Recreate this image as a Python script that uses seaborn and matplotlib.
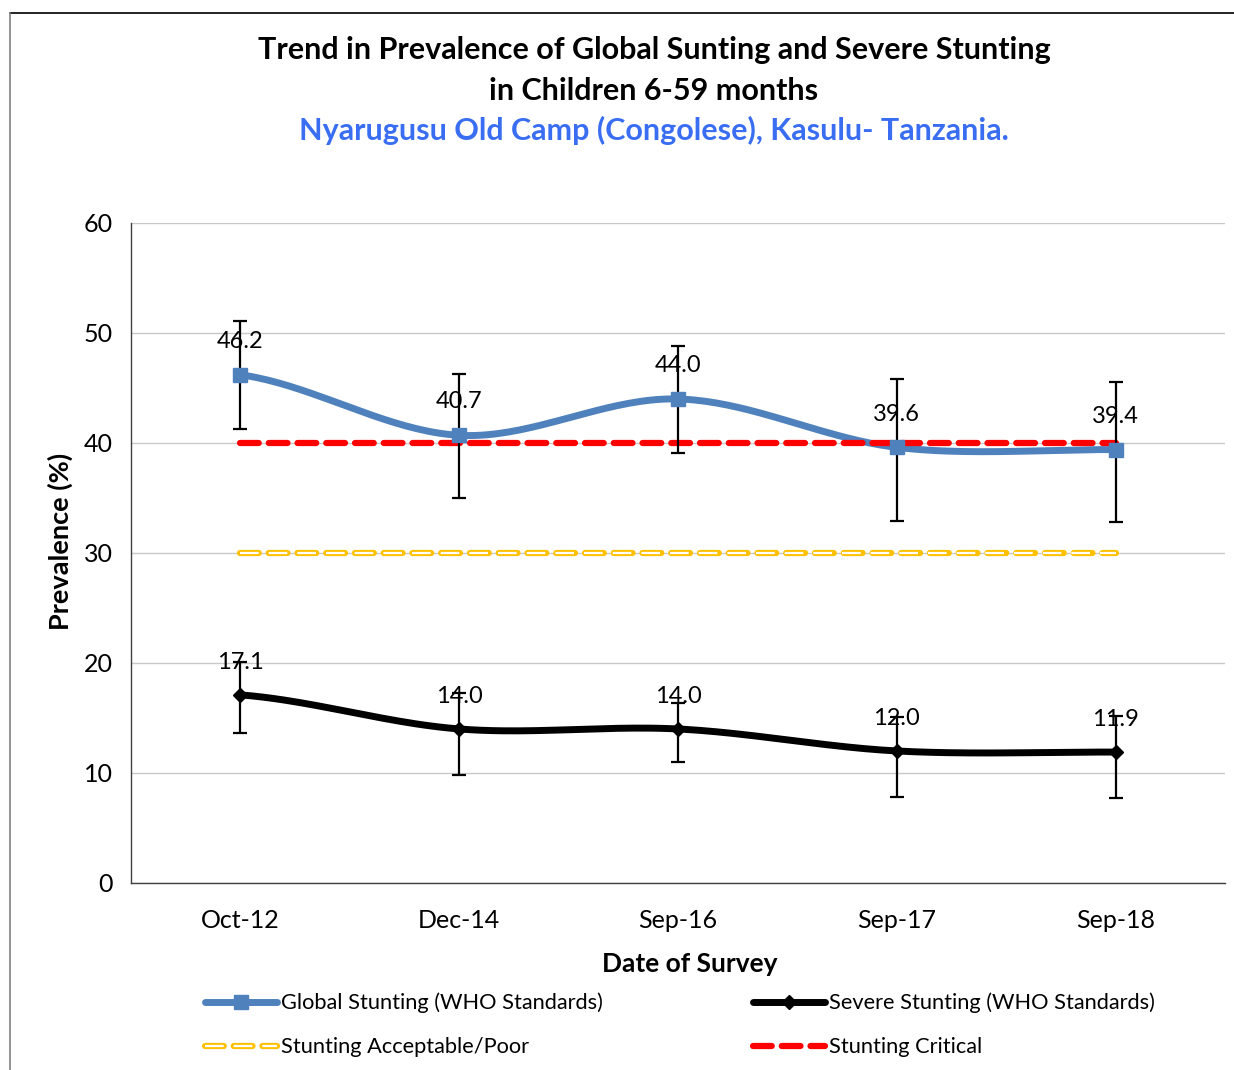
import numpy as np
import matplotlib
matplotlib.use("Agg")
import matplotlib.pyplot as plt
import seaborn as sns
from matplotlib.lines import Line2D

# --------------------------------------------
# 1. DATA
# --------------------------------------------
survey_dates = ["Oct-12", "Dec-14", "Sep-16", "Sep-17", "Sep-18"]

global_stunting = [46.2, 40.7, 44.0, 39.6, 39.4]
global_low = [41.3, 35.0, 39.1, 32.9, 32.8]
global_high = [51.1, 46.3, 48.8, 45.8, 45.5]

severe_stunting = [17.1, 14.0, 14.0, 12.0, 11.9]
severe_low = [13.6, 9.8, 11.0, 7.8, 7.7]
severe_high = [20.1, 17.3, 16.4, 15.1, 15.2]

threshold_poor = 30
threshold_critical = 40

# --------------------------------------------
# 2. BASIC SETTINGS
# --------------------------------------------
sns.set_style("white")
plt.rcParams["font.family"] = ["Lato", "DejaVu Sans"]
plt.rcParams["text.color"] = "black"
plt.rcParams["axes.labelcolor"] = "black"
plt.rcParams["xtick.color"] = "black"
plt.rcParams["ytick.color"] = "black"

BLUE = "#4F81BD"
GOLD = "#FFC000"
RED = "#FF0000"


def smooth(values, n=40):
    # Catmull-Rom spline like Excel's smoothed line
    p = np.asarray(values, dtype=float)
    pts = np.concatenate([[p[0]], p, [p[-1]]])
    xs, ys = [], []
    for i in range(1, len(pts) - 2):
        t = np.linspace(0, 1, n, endpoint=(i == len(pts) - 3))
        p0, p1, p2, p3 = pts[i - 1], pts[i], pts[i + 1], pts[i + 2]
        y = 0.5 * ((2 * p1) + (-p0 + p2) * t + (2 * p0 - 5 * p1 + 4 * p2 - p3) * t ** 2
                   + (-p0 + 3 * p1 - 3 * p2 + p3) * t ** 3)
        xs.append(i - 1 + t)
        ys.append(y)
    return np.concatenate(xs), np.concatenate(ys)


fig = plt.figure(figsize=(12.34, 10.70), dpi=100)
ax = fig.add_axes([0.1062, 0.1748, 0.8865, 0.6168])

x = np.arange(len(survey_dates))

# --------------------------------------------
# 3. THRESHOLD LINES
# --------------------------------------------
ax.plot(x[[0, -1]], [threshold_poor] * 2, color=GOLD, lw=4.5, ls=(0, (3, 1.6)),
        dash_capstyle="round", solid_capstyle="round", zorder=2)
ax.plot(x[[0, -1]], [threshold_poor] * 2, color="white", lw=1.6, ls=(0, (8.4, 4.5)),
        zorder=2.1)
ax.plot(x[[0, -1]], [threshold_critical] * 2, color=RED, lw=4.5, ls=(0, (3, 1.6)),
        dash_capstyle="round", zorder=4)

# --------------------------------------------
# 4. SMOOTHED SERIES + ERROR BARS
# --------------------------------------------
gx, gy = smooth(global_stunting)
sx, sy = smooth(severe_stunting)
sns.lineplot(x=gx, y=gy, ax=ax, color=BLUE, lw=5, sort=False, zorder=3)
sns.lineplot(x=sx, y=sy, ax=ax, color="black", lw=5, sort=False, zorder=3)

g_err = [np.subtract(global_stunting, global_low), np.subtract(global_high, global_stunting)]
s_err = [np.subtract(severe_stunting, severe_low), np.subtract(severe_high, severe_stunting)]
ax.errorbar(x, global_stunting, yerr=g_err, fmt="s", color=BLUE, ms=10,
            ecolor="black", elinewidth=1.6, capsize=5, capthick=1.6, zorder=5)
ax.errorbar(x, severe_stunting, yerr=s_err, fmt="D", color="black", ms=7,
            ecolor="black", elinewidth=1.6, capsize=5, capthick=1.6, zorder=5)

for xi, v in zip(x, global_stunting):
    ax.annotate(f"{v:.1f}", (xi, v), xytext=(0, 24), textcoords="offset points",
                ha="center", va="center", fontsize=17, zorder=6)
for xi, v in zip(x, severe_stunting):
    ax.annotate(f"{v:.1f}", (xi, v), xytext=(0, 23.5), textcoords="offset points",
                ha="center", va="center", fontsize=17, zorder=6)

# --------------------------------------------
# 5. AXES
# --------------------------------------------
ax.set_xlim(-0.5, len(survey_dates) - 0.5)
ax.set_ylim(0, 60)
ax.set_yticks(range(0, 61, 10))
ax.set_xticks(x)
ax.set_xticklabels(survey_dates)
ax.set_xticks(np.arange(-0.5, len(survey_dates), 1), minor=True)
ax.tick_params(axis="x", which="major", length=0, labelsize=18, pad=19)
ax.tick_params(axis="x", which="minor", length=7, width=1, color="#404040", direction="out")
ax.tick_params(axis="y", length=7, width=1, color="#404040", direction="out", labelsize=18, pad=6)
ax.yaxis.grid(True, color="#C8C8C8", lw=1)
ax.set_axisbelow(True)
for side in ["top", "right"]:
    ax.spines[side].set_visible(False)
for side in ["left", "bottom"]:
    ax.spines[side].set_color("#404040")
    ax.spines[side].set_linewidth(1)
ax.set_xlabel("Date of Survey", fontsize=19, fontweight="bold", labelpad=14)
ax.set_ylabel("Prevalence (%)", fontsize=19.5, fontweight="bold", labelpad=8)
ax.xaxis.label.set_x(0.511)
ax.yaxis.label.set_y(0.518)

# --------------------------------------------
# 6. TITLES
# --------------------------------------------
fig.text(0.530, 0.953, "Trend in Prevalence of Global Sunting and Severe Stunting",
         ha="center", va="center", fontsize=22, fontweight="bold")
fig.text(0.530, 0.915, "in Children 6-59 months",
         ha="center", va="center", fontsize=22, fontweight="bold")
fig.text(0.530, 0.878, "Nyarugusu Old Camp (Congolese), Kasulu- Tanzania.",
         ha="center", va="center", fontsize=22, fontweight="bold", color="#3A6EF2")

# --------------------------------------------
# 7. LEGEND
# --------------------------------------------
h_global = Line2D([], [], color=BLUE, lw=5, marker="s", ms=10)
h_severe = Line2D([], [], color="black", lw=5, marker="D", ms=7)
h_poor = (Line2D([], [], color=GOLD, lw=4.5, ls=(0, (3, 1.6)), dash_capstyle="round"),
          Line2D([], [], color="white", lw=1.6, ls=(0, (8.4, 4.5))))
h_crit = Line2D([], [], color=RED, lw=4.5, ls=(0, (3, 1.6)), dash_capstyle="round")
fig.legend([h_global, h_poor, h_severe, h_crit],
           ["Global Stunting (WHO Standards)", "Stunting Acceptable/Poor",
            "Severe Stunting (WHO Standards)", "Stunting Critical"],
           ncol=2, loc="center left", bbox_to_anchor=(205 / 1234, 0.042), frameon=False,
           fontsize=15.7, handlelength=3.3, handletextpad=0.2, columnspacing=6.85,
           labelspacing=1.1, borderpad=0, borderaxespad=0)

# --------------------------------------------
# 8. OUTER FRAME
# --------------------------------------------
fig.add_artist(Line2D([10 / 1234, 1.0], [1 - 13 / 1070] * 2, transform=fig.transFigure,
                      color="black", lw=1.2))
fig.add_artist(Line2D([10 / 1234] * 2, [0, 1 - 13 / 1070], transform=fig.transFigure,
                      color="#808080", lw=1.2))

fig.savefig("out.png", dpi=100)
